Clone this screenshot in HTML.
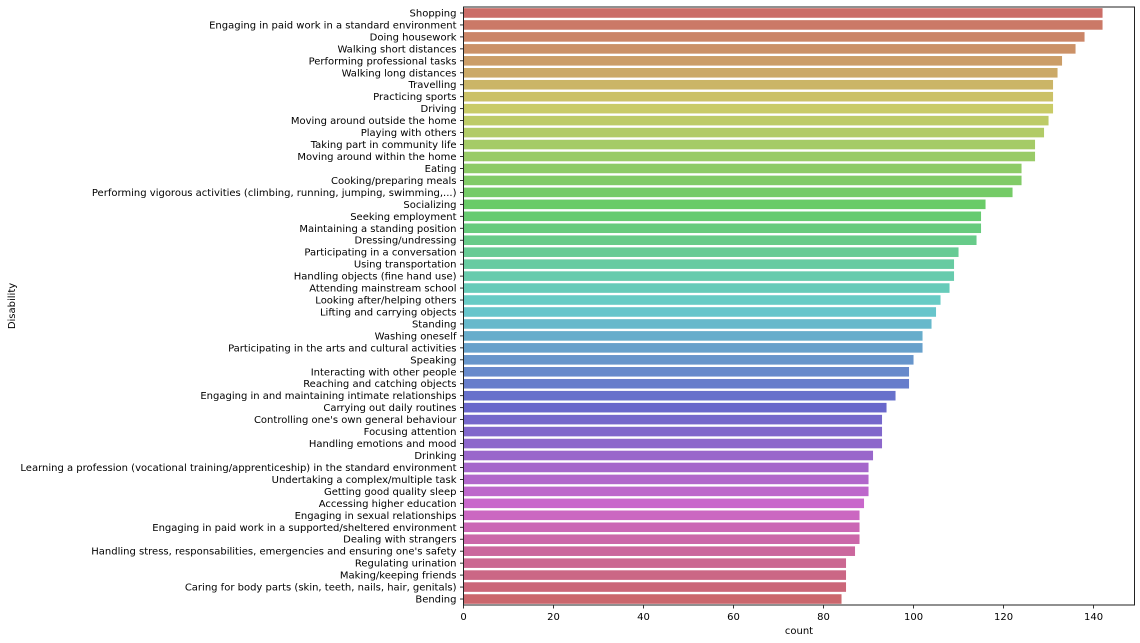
<!DOCTYPE html>
<html><head><meta charset="utf-8"><style>
body{margin:0;background:#fff;}
svg{display:block;font-family:"DejaVu Sans","Liberation Sans",sans-serif;}
</style></head><body>
<svg id="chart" width="1140" height="643"></svg>
<script>
const categories=["Shopping","Engaging in paid work in a standard environment","Doing housework","Walking short distances","Performing professional tasks","Walking long distances","Travelling","Practicing sports","Driving","Moving around outside the home","Playing with others","Taking part in community life","Moving around within the home","Eating","Cooking/preparing meals","Performing vigorous activities (climbing, running, jumping, swimming,...)","Socializing","Seeking employment","Maintaining a standing position","Dressing/undressing","Participating in a conversation","Using transportation","Handling objects (fine hand use)","Attending mainstream school","Looking after/helping others","Lifting and carrying objects","Standing","Washing oneself","Participating in the arts and cultural activities","Speaking","Interacting with other people","Reaching and catching objects","Engaging in and maintaining intimate relationships","Carrying out daily routines","Controlling one's own general behaviour","Focusing attention","Handling emotions and mood","Drinking","Learning a profession (vocational training/apprenticeship) in the standard environment","Undertaking a complex/multiple task","Getting good quality sleep","Accessing higher education","Engaging in sexual relationships","Engaging in paid work in a supported/sheltered environment","Dealing with strangers","Handling stress, responsabilities, emergencies and ensuring one's safety","Regulating urination","Making/keeping friends","Caring for body parts (skin, teeth, nails, hair, genitals)","Bending"];
const counts=[142,142,138,136,133,132,131,131,131,130,129,127,127,124,124,122,116,115,115,114,110,109,109,108,106,105,104,102,102,100,99,99,96,94,93,93,93,91,90,90,90,89,88,88,88,87,85,85,85,84];
const xTicks=[0,20,40,60,80,100,120,140];
const xMax=149.1;
const L=463.5,R=1134.5,T=7,B=605;
const NS="http://www.w3.org/2000/svg";
const svg=document.getElementById('chart');
const x=v=>L+(v/xMax)*(R-L);
const band=(B-T)/categories.length;
const y=i=>T+i*band;
function mk(t,a){const e=document.createElementNS(NS,t);for(const k in a)e.setAttribute(k,a[k]);svg.appendChild(e);return e;}
categories.forEach((c,i)=>{
  const h=(i/categories.length+0.01)*360;
  const r=mk('rect',{x:x(0),y:y(i)+band*0.1,width:x(counts[i])-x(0),height:band*0.8,fill:`hsl(${h},48.75%,60%)`});
  
  
  const t=mk('text',{x:L-7,y:y(i)+band/2+3.5,'text-anchor':'end','font-size':'10',fill:'#000'});
  t.textContent=c;
  
  
  mk('line',{x1:L-3.5,x2:L,y1:y(i)+band/2,y2:y(i)+band/2,stroke:'#000','stroke-width':0.8});
});
xTicks.forEach(v=>{
  mk('line',{x1:x(v),x2:x(v),y1:B,y2:B+3.5,stroke:'#000','stroke-width':0.8});
  const t=mk('text',{x:x(v),y:B+15,'text-anchor':'middle','font-size':'10',fill:'#000'});
  t.textContent=v;
  
  
});
const fr=mk('rect',{x:L,y:T,width:R-L,height:B-T,fill:'none',stroke:'#222','stroke-width':1});


const xl=mk('text',{x:(L+R)/2,y:634,'text-anchor':'middle','font-size':'10',fill:'#000'});
xl.textContent='count';


const yl=mk('text',{x:0,y:0,'text-anchor':'middle','font-size':'10',fill:'#000',transform:'translate(15,306) rotate(-90)'});
yl.textContent='Disability';


</script>
</body></html>
